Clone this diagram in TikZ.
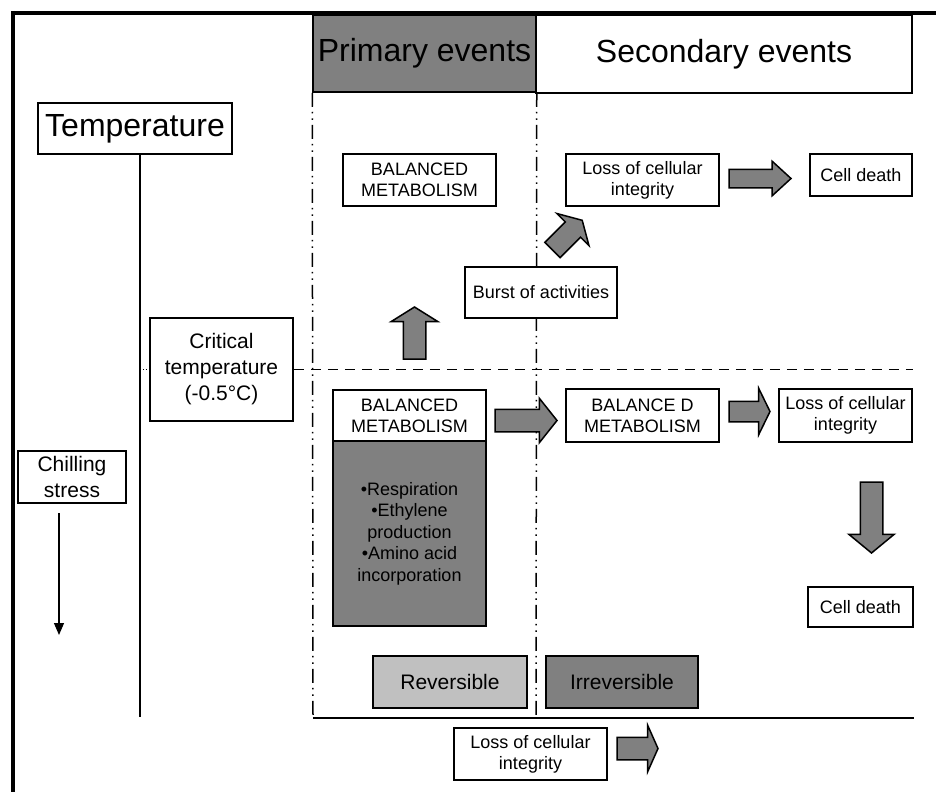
\documentclass[tikz,border=0pt]{standalone}
\usepackage{fontspec}
\setmainfont{Liberation Sans}
\usetikzlibrary{arrows.meta,shapes.arrows}
\definecolor{evgray}{HTML}{808080}
\definecolor{evlight}{HTML}{C0C0C0}

\begin{document}
\begin{tikzpicture}[x=1pt, y=-1pt, line width=1.5pt,
  box/.style={draw, rectangle, fill=white, align=center, inner sep=0pt, font=\fontsize{18}{21}\selectfont},
  bigbox/.style={box, font=\fontsize{32}{36}\selectfont},
  midbox/.style={box, font=\fontsize{21}{26}\selectfont},
  barrow/.style={single arrow, draw, fill=evgray, minimum width=0pt, inner xsep=0pt, outer sep=0pt, anchor=tail},
  panel/.style={dash pattern=on 14pt off 5pt on 1.5pt off 5pt on 1.5pt off 5pt}]
  \path[fill=white, use as bounding box] (0,0) rectangle (936,792);

  % Header
  \node[bigbox, fill=evgray, minimum width=223pt, minimum height=77pt] (primary) at (424.5,53.5) {Primary events};
  \node[bigbox, minimum width=376pt, minimum height=78pt] (secondary) at (724,54) {Secondary events};

  % Frame
  \draw[line width=4pt] (11,13) -- (936,13);
  \draw[line width=4pt] (13,11) -- (13,792);

  % Temperature axis
  \node[bigbox, minimum width=194pt, minimum height=51pt] (temp) at (135,128.5) {Temperature};
  \coordinate (taxis) at (140,717);
  \draw (taxis |- temp.south) -- (taxis);

  % Panels
  \coordinate (pbl) at (313,718);
  \coordinate (pbm) at (536,718);
  \coordinate (pbr) at (914,718);
  \draw[panel] (primary.south west) -- (pbl);
  \draw[panel] (primary.south east) -- (pbm);
  \draw (pbl) -- (pbr);

  % Critical temperature
  \node[midbox, minimum width=143pt, minimum height=103pt] (crit) at (221.5,369.5) {Critical\\temperature\\(-0.5°C)};
  \coordinate (cend) at (913,369.5);
  \draw[dotted, line width=1pt] (taxis |- crit.west) -- (crit.west);
  \draw[dash pattern=on 10pt off 7pt] (crit.east) -- (cend);

  % Chilling stress
  \node[midbox, minimum width=108pt, minimum height=52pt] (chill) at (72,477) {Chilling\\stress};
  \coordinate (chtop) at (59,513);
  \coordinate (chbot) at (59,635);
  \draw[-{Triangle[width=10pt,length=12pt]}, line width=1.2pt] (chtop) -- (chbot);

  % Above the critical temperature
  \node[box, minimum width=153pt, minimum height=52pt] (bal1) at (419.5,180) {BALANCED\\METABOLISM};
  \node[box, minimum width=153pt, minimum height=52pt] (loss1) at (642.5,180) {Loss of cellular\\integrity};
  \node[box, minimum width=102pt, minimum height=42pt] (death1) at (861,175) {Cell death};
  \node[box, minimum width=152pt, minimum height=51pt] (burst) at (541,292.5) {Burst of activities};
  \node[barrow, minimum height=62pt, inner ysep=8.5pt, single arrow head extend=8pt, single arrow tip angle=85] (arr1) at (729,178.5) {};
  \node[barrow, rotate=90, minimum height=52pt, inner ysep=10.5pt, single arrow head extend=12pt, single arrow tip angle=116] (arr2) at (414.5,359) {};
  \node[barrow, rotate=45, minimum height=42pt, inner ysep=10pt, single arrow head extend=12pt, single arrow tip angle=120] (arr3) at (552.5,250) {};

  % Below the critical temperature
  \node[box, minimum width=153pt, minimum height=51pt] (bal2) at (409.5,415.5) {BALANCED\\METABOLISM};
  \node[box, fill=evgray, minimum width=153pt, minimum height=185pt, font=\fontsize{18}{21.5}\selectfont] (list) at (409.5,533.5) {•Respiration\\•Ethylene\\production\\•Amino acid\\incorporation};
  \node[box, minimum width=153pt, minimum height=53pt] (bal3) at (642.5,415.5) {BALANCE D\\METABOLISM};
  \node[box, minimum width=133pt, minimum height=53pt] (loss2) at (845.5,415.5) {Loss of cellular\\integrity};
  \node[box, minimum width=105pt, minimum height=40pt] (death2) at (860.5,607) {Cell death};
  \node[barrow, minimum height=62pt, inner ysep=10.5pt, single arrow head extend=11pt, single arrow tip angle=103] (arr4) at (495,420.5) {};
  \node[barrow, minimum height=41pt, inner ysep=9.5pt, single arrow head extend=13pt, single arrow tip angle=128] (arr5) at (729,411.5) {};
  \node[barrow, rotate=-90, minimum height=71pt, inner ysep=10.5pt, single arrow head extend=11.5pt, single arrow tip angle=101] (arr6) at (871.5,482) {};

  % Reversible / irreversible
  \node[midbox, fill=evlight, minimum width=154pt, minimum height=52pt] (rev) at (450,682) {Reversible};
  \node[midbox, fill=evgray, minimum width=152pt, minimum height=52pt] (irrev) at (622,682) {Irreversible};

  % Bottom
  \node[box, minimum width=153pt, minimum height=52pt] (loss3) at (530.5,754) {Loss of cellular\\integrity};
  \node[barrow, minimum height=41pt, inner ysep=10.5pt, single arrow head extend=12pt, single arrow tip angle=132] (arr7) at (617,748.5) {};
\end{tikzpicture}
\end{document}
